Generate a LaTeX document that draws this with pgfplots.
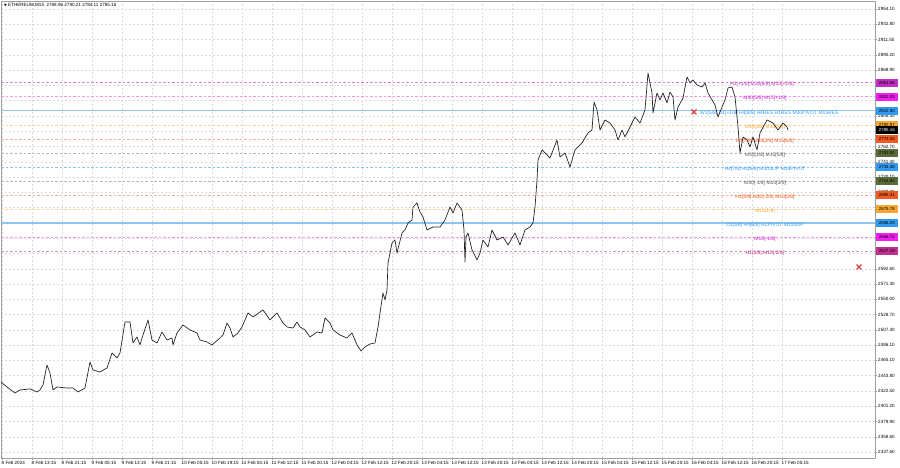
\documentclass[border=0pt]{standalone}
\usepackage{fontspec}
\setmainfont{Liberation Sans}
\newfontfamily\symfont{DejaVu Sans}
\usepackage{pgfplots}
\pgfplotsset{compat=1.18}
\definecolor{magA}{HTML}{C030C0}
\definecolor{magB}{HTML}{F020F0}
\definecolor{magC}{HTML}{C0308F}
\definecolor{blueL}{HTML}{3399EE}
\definecolor{blueLine}{HTML}{8CC6F0}
\definecolor{orgA}{HTML}{F8A830}
\definecolor{orgB}{HTML}{F05A20}
\definecolor{olive}{HTML}{5A6B3A}
\definecolor{xred}{HTML}{E03C3C}
\begin{document}
\begin{tikzpicture}
\fontsize{4.6}{5.5}\selectfont
\begin{axis}[
  at={(1bp,10bp)}, anchor=south west,
  scale only axis, width=874bp, height=457bp,
  xmin=1, xmax=875, ymin=2329.2, ymax=2965.2,
  clip=false,
  axis line style={draw=gray!75, line width=0.6bp},
  tick align=outside, major tick length=2bp,
  tick style={draw=gray!75, line width=0.4bp},
  xtick pos=bottom, ytick pos=right,
  xtick={2,32,62,92,122,152,182,212,242,272,302,332,362,392,422,452,482,512,542,572,602,632,662,692,722,752,782},
  xticklabels={8 Feb 2024,8 Feb 13:15,8 Feb 21:15,9 Feb 05:15,9 Feb 13:15,9 Feb 21:15,10 Feb 05:15,10 Feb 19:15,11 Feb 04:15,11 Feb 12:15,11 Feb 20:15,12 Feb 04:15,12 Feb 12:15,12 Feb 20:15,13 Feb 04:15,13 Feb 12:15,13 Feb 20:15,14 Feb 04:15,14 Feb 12:15,14 Feb 20:15,15 Feb 04:15,15 Feb 12:15,15 Feb 20:15,16 Feb 04:15,16 Feb 12:15,16 Feb 20:15,17 Feb 05:15},
  ytick={2337.60,2358.60,2379.90,2401.20,2422.50,2443.80,2465.10,2486.10,2507.40,2528.70,2550.00,2571.30,2592.60,2613.90,2635.20,2656.50,2677.80,2698.80,2720.10,2741.40,2762.70,2784.00,2805.30,2826.60,2847.60,2868.90,2890.20,2911.50,2932.80,2954.10},
  yticklabels={2337.60,2358.60,2379.90,2401.20,2422.50,2443.80,2465.10,2486.10,2507.40,2528.70,2550.00,2571.30,2592.60,,,,,\raisebox{2bp}{2698.80},2720.10,2741.40,2762.70,,2805.30,,,2868.90,2890.20,2911.50,2932.80,2954.10},
  xticklabel style={anchor=north west, inner sep=0.5bp, xshift=-1bp, font=\fontsize{4.6}{5.5}\selectfont},
  yticklabel style={anchor=west, inner sep=0.5bp, xshift=0.5bp, font=\fontsize{4.6}{5.5}\selectfont},
  grid=major,
  major grid style={draw=gray!28, line width=0.4bp, dash pattern=on 2bp off 2bp},
]
% level lines
\addplot[magA!60, line width=0.45bp, dash pattern=on 2.5bp off 2bp] coordinates {(1,2851.56) (875,2851.56)};
\addplot[magB!50, line width=0.45bp, dash pattern=on 2.5bp off 2bp] coordinates {(1,2832.03) (875,2832.03)};
\addplot[blueLine, line width=1.4bp] coordinates {(1,2812.50) (875,2812.50)};
\addplot[orgA!55, line width=0.45bp, dash pattern=on 2.5bp off 2bp] coordinates {(1,2792.97) (875,2792.97)};
\addplot[orgB!50, line width=0.45bp, dash pattern=on 2.5bp off 2bp] coordinates {(1,2773.44) (875,2773.44)};
\addplot[olive!45, line width=0.45bp, dash pattern=on 2.5bp off 2bp] coordinates {(1,2753.91) (875,2753.91)};
\addplot[blueL!60, line width=0.5bp, dash pattern=on 2.5bp off 2bp] coordinates {(1,2734.38) (875,2734.38)};
\addplot[olive!45, line width=0.45bp, dash pattern=on 2.5bp off 2bp] coordinates {(1,2714.84) (875,2714.84)};
\addplot[orgB!50, line width=0.45bp, dash pattern=on 2.5bp off 2bp] coordinates {(1,2695.31) (875,2695.31)};
\addplot[orgA!55, line width=0.45bp, dash pattern=on 2.5bp off 2bp] coordinates {(1,2675.78) (875,2675.78)};
\addplot[blueLine, line width=1.4bp] coordinates {(1,2656.25) (875,2656.25)};
\addplot[magB!50, line width=0.45bp, dash pattern=on 2.5bp off 2bp] coordinates {(1,2636.72) (875,2636.72)};
\addplot[magC!55, line width=0.45bp, dash pattern=on 2.5bp off 2bp] coordinates {(1,2617.19) (875,2617.19)};
% level labels
\tikzset{lvl/.style={yshift=-2bp, inner sep=0, font=\fontsize{5}{6}\selectfont}}
\node[lvl, text=magA] at (axis cs:762,2851.56) {H1[+1/8] M30[6/8] M15[+2/8]};
\node[lvl, text=magB!85!black] at (axis cs:765,2832.03) {M30[5/8] M15[+1/8]};
\node[lvl, text=blueL, anchor=west] at (axis cs:700,2812.50) {W1[5/8] D1[+1/8] H4[8/8] H4RES H1RES M30PIVOT M15RES};
\node[lvl, text=orgA] at (axis cs:765,2792.97) {M30[3/8] M15[7/8]};
\node[lvl, text=orgB] at (axis cs:765,2773.44) {H1[7/8] M30[2/8] M15[6/8]};
\node[lvl, text=black!65] at (axis cs:765,2753.91) {M30[1/8] M15[5/8]};
\node[lvl, text=blueL] at (axis cs:765,2734.38) {H4[7/8] H1[6/8] M30SUP M15PIVOT};
\node[lvl, text=black!65] at (axis cs:765,2714.84) {M30[-1/8] M15[3/8]};
\node[lvl, text=orgB] at (axis cs:765,2695.31) {H1[5/8] M30[-2/8] M15[2/8]};
\node[lvl, text=orgA] at (axis cs:765,2675.78) {M15[1/8]};
\node[lvl, text=blueL] at (axis cs:765,2656.25) {D1[5/8] H4[6/8] H1PIVOT M15SUP};
\node[lvl, text=magB!85!black] at (axis cs:765,2636.72) {M15[-1/8]};
\node[lvl, text=magC] at (axis cs:765,2617.19) {H1[3/8] M15[-2/8]};
% price
\addplot[black!85, line width=0.7bp, line join=round] coordinates {
(1,2435.0)(7,2428.0)(15,2419.7)(20,2423.9)(30,2425.3)(37,2421.1)(40,2423.9)(43,2430.8)(47,2458.7)(50,2447.5)
(53,2423.9)(57,2428.0)(67,2426.6)(73,2426.6)(78,2421.1)(85,2426.6)(90,2462.8)(93,2451.7)(100,2448.9)(107,2454.5)
(112,2475.4)(117,2468.4)(120,2475.4)(125,2518.5)(130,2518.5)(133,2489.3)(137,2497.6)(140,2486.5)(143,2500.4)(148,2521.3)
(152,2493.4)(157,2489.3)(162,2504.6)(167,2493.4)(172,2496.2)(173,2486.5)(177,2503.2)(183,2514.3)(190,2507.4)(197,2503.2)
(200,2493.4)(207,2490.7)(212,2486.5)(220,2496.2)(223,2500.4)(227,2517.1)(230,2510.1)(233,2497.6)(238,2503.2)(242,2511.5)
(248,2531.0)(253,2525.5)(263,2535.2)(270,2521.3)(277,2531.0)(283,2517.1)(287,2511.5)(293,2510.1)(297,2518.5)(300,2511.5)
(305,2507.4)(310,2497.6)(317,2504.6)(322,2503.2)(325,2524.1)(330,2517.1)(333,2507.4)(340,2500.4)(347,2496.2)(352,2503.2)
(357,2486.5)(361,2478.1)(365,2483.7)(370,2487.9)(375,2489.3)(378,2511.5)(380,2531.0)(383,2558.9)(385,2549.1)(387,2563.0)
(388,2600.6)(392,2628.4)(395,2632.6)(397,2614.5)(402,2642.4)(405,2646.5)(408,2656.3)(412,2660.5)(413,2678.5)(417,2684.1)
(420,2671.6)(423,2664.6)(427,2646.5)(433,2650.7)(440,2650.7)(445,2660.5)(450,2678.5)(453,2670.2)(457,2684.1)(462,2674.4)
(464,2646.5)(465,2602.0)(466,2636.8)(468,2642.4)(472,2618.7)(477,2604.8)(480,2614.5)(483,2632.6)(488,2622.9)(492,2646.5)
(497,2632.6)(503,2636.8)(508,2625.7)(515,2642.4)(520,2625.7)(525,2646.5)(530,2650.7)(533,2656.3)(535,2678.5)(537,2716.1)
(538,2744.0)(542,2757.9)(545,2753.7)(550,2746.7)(557,2771.8)(560,2748.1)(565,2753.7)(570,2734.2)(575,2757.9)(582,2767.6)
(588,2781.5)(592,2785.7)(594,2824.7)(597,2813.5)(600,2785.7)(605,2799.6)(610,2795.4)(615,2785.7)(618,2771.8)(622,2785.7)
(625,2776.0)(630,2789.9)(635,2803.8)(640,2795.4)(645,2813.5)(648,2865.0)(652,2837.2)(653,2809.4)(657,2837.2)(660,2827.5)
(663,2837.2)(667,2823.3)(670,2838.6)(673,2831.6)(675,2799.6)(678,2817.7)(683,2830.2)(687,2859.5)(690,2851.1)(693,2855.3)
(697,2848.3)(702,2845.5)(705,2851.1)(708,2837.2)(712,2827.5)(715,2820.5)(718,2803.8)(722,2817.7)(725,2827.5)(728,2844.2)
(732,2845.5)(735,2831.6)(738,2789.9)(740,2753.7)(743,2776.0)(747,2771.8)(750,2762.0)(753,2776.0)(757,2757.9)(760,2781.5)
(767,2799.6)(773,2795.4)(778,2785.7)(783,2795.4)(787,2789.9)(788,2785.2)
};
% red crosses
\addplot[only marks, mark=x, mark size=3.5bp, xred, line width=1.3bp] coordinates {(694,2810.8) (859,2595.0)};
% price tags
\tikzset{tag/.style={anchor=west, minimum width=22bp, minimum height=8bp, inner sep=0, text=black, font=\fontsize{4.4}{5}\selectfont}}
\node[tag, fill=magA] at (axis cs:875.6,2851.56) {2851.56};
\node[tag, fill=magB] at (axis cs:875.6,2832.03) {2832.03};
\node[tag, fill=blueL] at (axis cs:875.6,2812.50) {2812.50};
\node[tag, fill=orgA] at (axis cs:875.6,2792.97) {2792.97};
\node[tag, fill=black, text=white] at (axis cs:875.6,2785.16) {2785.16};
\node[tag, fill=orgB] at (axis cs:875.6,2773.44) {2773.44};
\node[tag, fill=olive] at (axis cs:875.6,2753.91) {2753.91};
\node[tag, fill=blueL] at (axis cs:875.6,2734.38) {2734.38};
\node[tag, fill=olive] at (axis cs:875.6,2714.84) {2714.84};
\node[tag, fill=orgB] at (axis cs:875.6,2695.31) {2695.31};
\node[tag, fill=orgA] at (axis cs:875.6,2675.78) {2675.78};
\node[tag, fill=blueL] at (axis cs:875.6,2656.25) {2656.25};
\node[tag, fill=magB] at (axis cs:875.6,2636.72) {2636.72};
\node[tag, fill=magC] at (axis cs:875.6,2617.19) {2617.19};
% title
\node[anchor=north west, inner sep=0, xshift=3bp, yshift=-2.5bp] at (rel axis cs:0,1) {{\symfont\fontsize{3.5}{4}\selectfont ▼} ETHEREUM,M15\ \ 2788.96 2790.21 2784.11 2785.16};
\end{axis}
\pgfresetboundingbox
\path[use as bounding box] (0,0) rectangle (900bp,468bp);
\end{tikzpicture}
\end{document}
